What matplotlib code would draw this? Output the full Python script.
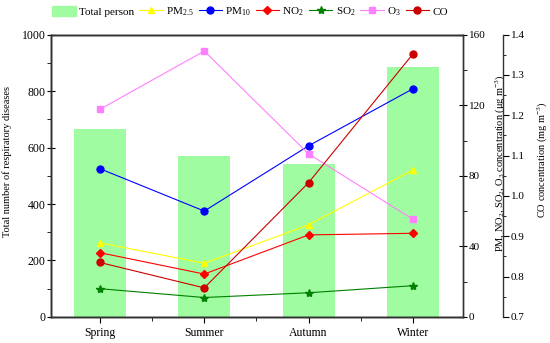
import numpy as np
import matplotlib
matplotlib.use('Agg')
import matplotlib.pyplot as plt
from matplotlib.patches import Patch
from matplotlib.lines import Line2D

plt.rcParams['font.family'] = 'Liberation Serif'
plt.rcParams['mathtext.fontset'] = 'custom'
plt.rcParams['mathtext.rm'] = 'Liberation Serif'
plt.rcParams['mathtext.it'] = 'Liberation Serif:italic'

# dane
seasons = ['Spring', 'Summer', 'Autumn', 'Winter']
total = [665, 570, 543, 884]
pm25 = [42, 30.4, 52.2, 83.3]
pm10 = [84, 60, 97, 129.3]
no2 = [36.4, 24.3, 46.5, 47.4]
so2 = [16, 11, 13.7, 17.7]
o3 = [117.7, 150.7, 92.4, 55.4]
co = [0.835, 0.772, 1.033, 1.352]

x = np.arange(len(seasons))

fig = plt.figure(figsize=(5.5, 3.43), dpi=100)
ax = fig.add_axes([0.0927, 0.076, 0.749, 0.823])
ax2 = ax.twinx()
ax3 = ax.twinx()
ax3.spines['right'].set_position(('axes', 1.097))

ax.bar(x, total, width=0.5, color='#a0fca0', zorder=1)
ax.set_xlim(-0.47, 3.48)
ax.set_ylim(0, 1000)
ax.set_yticks(np.arange(0, 1001, 200))
ax.set_yticks(np.arange(0, 1001, 100), minor=True)
ax.set_xticks(x)
ax.set_xticks(x[:-1] + 0.5, minor=True)
ax.set_xticklabels(seasons, fontsize=8.5)
ax.tick_params(axis='y', which='major', direction='inout', length=6, labelsize=8.5, pad=1)
ax.tick_params(axis='y', which='minor', direction='out', length=3)
ax.tick_params(axis='x', which='major', direction='out', length=4)
ax.tick_params(axis='x', which='minor', direction='out', length=3)
ax.set_ylabel('Total number of respiratory diseases', fontsize=7.5)
ax.yaxis.set_label_coords(-0.094, 0.55)

lw = 0.8
ms = 5
ax2.plot(x, pm25, color='#ffff00', marker='^', lw=lw, ms=ms)
ax2.plot(x, pm10, color='#0000ff', marker='o', lw=lw, ms=ms)
ax2.plot(x, no2, color='#ff0000', marker='D', lw=lw, ms=ms - 0.5)
ax2.plot(x, so2, color='#008000', marker='*', lw=lw, ms=ms + 1)
ax2.plot(x, o3, color='#ff80ff', marker='s', lw=lw, ms=ms - 0.5)
ax2.set_ylim(0, 160)
ax2.set_yticks(np.arange(0, 161, 40))
ax2.set_yticks(np.arange(0, 161, 20), minor=True)
ax2.tick_params(axis='y', which='major', direction='inout', length=6, labelsize=8, pad=1)
ax2.tick_params(axis='y', which='minor', direction='out', length=3)
ax2.set_ylabel(r'PM, NO$_2$, SO$_2$, O$_3$ concentration ($\mathrm{\mu}$g m$^{-3}$)', fontsize=7.5)
ax2.yaxis.set_label_coords(1.074, 0.546)

ax3.plot(x, co, color='#cc0000', marker='o', lw=lw, ms=ms)
ax3.set_ylim(0.7, 1.4)
ax3.set_yticks(np.arange(0.7, 1.401, 0.1))
ax3.set_yticks(np.arange(0.7, 1.401, 0.05), minor=True)
ax3.set_yticklabels([f'{v:.1f}' for v in np.arange(0.7, 1.401, 0.1)])
ax3.tick_params(axis='y', which='major', direction='out', length=4, labelsize=8, pad=1.5)
ax3.tick_params(axis='y', which='minor', direction='out', length=2)
ax3.set_ylabel(r'CO concentration (mg m$^{-3}$)', fontsize=7.5)
ax3.yaxis.set_label_coords(1.176, 0.557)

for a in (ax, ax2, ax3):
    for s in a.spines.values():
        s.set_linewidth(1.0)
        s.set_color('#333333')

handles = [
    Patch(color='#a0fca0', label='Total person'),
    Line2D([], [], color='#ffff00', marker='^', lw=lw, ms=ms, label=r'PM$_{2.5}$'),
    Line2D([], [], color='#0000ff', marker='o', lw=lw, ms=ms, label=r'PM$_{10}$'),
    Line2D([], [], color='#ff0000', marker='D', lw=lw, ms=ms - 0.5, label=r'NO$_2$'),
    Line2D([], [], color='#008000', marker='*', lw=lw, ms=ms + 1, label=r'SO$_2$'),
    Line2D([], [], color='#ff80ff', marker='s', lw=lw, ms=ms - 0.5, label=r'O$_3$'),
    Line2D([], [], color='#cc0000', marker='o', lw=lw, ms=ms, label='CO'),
]
fig.legend(handles=handles, loc='center', bbox_to_anchor=(0.455, 0.965), ncol=7,
           frameon=False, fontsize=8, handlelength=2.1, handleheight=1.1,
           handletextpad=0.3, columnspacing=0.45, borderpad=0.2)

fig.savefig('out.png', dpi=100)
